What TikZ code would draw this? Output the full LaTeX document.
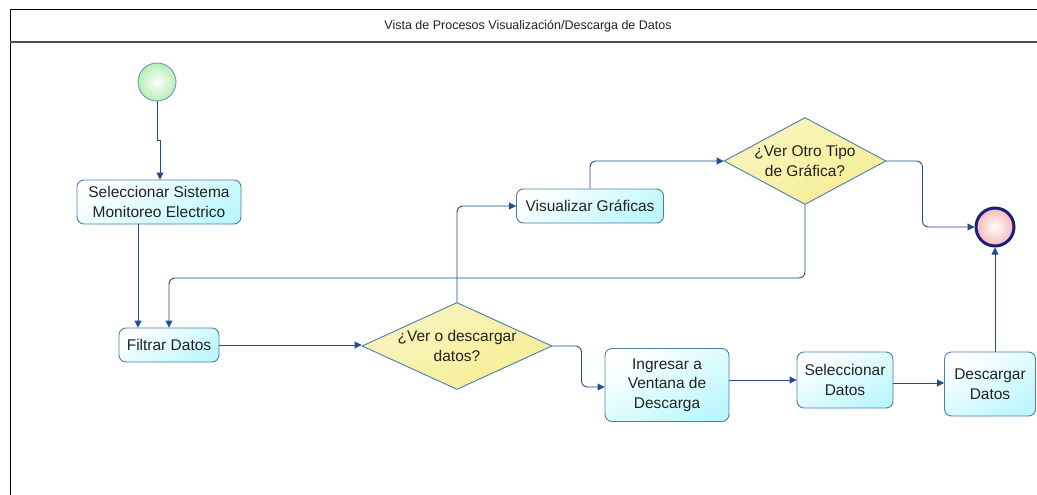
\documentclass[tikz,border=0pt]{standalone}
\usepackage{fontspec}
\setmainfont{Liberation Sans}
\usetikzlibrary{shapes.geometric,arrows.meta}
\definecolor{conn}{HTML}{1F4E8C}
\definecolor{boxborder}{HTML}{4A7DB0}
\definecolor{boxfill}{HTML}{BDF7FD}
\definecolor{diafill}{HTML}{F5EE95}
\definecolor{txt}{HTML}{222222}
\definecolor{startfill}{HTML}{B5EFB5}
\definecolor{endfill}{HTML}{F4B8B8}
\definecolor{endborder}{HTML}{1A1F7A}
\tikzset{
  x=1pt, y=-1pt,
  every node/.style={font=\fontsize{15.5}{19.5}\selectfont, text=txt},
  taskbox/.style={rectangle, rounded corners=7pt, draw=boxborder, line width=0.9pt,
    top color=white, bottom color=boxfill, shading angle=30, align=center, inner sep=2pt},
  decision/.style={diamond, draw=boxborder, line width=0.9pt, top color=white!40!diafill,
    bottom color=diafill, shading angle=30, align=center, inner sep=-3pt},
  flow/.style={draw=conn, line width=0.9pt, rounded corners=6pt,
    -{Triangle[length=7pt,width=7pt]}},
}
\begin{document}
\begin{tikzpicture}
\useasboundingbox (0,0) rectangle (1037,495);
\fill[white] (0,0) rectangle (1037,495);
% frame
\draw[black, line width=1pt] (10,495) -- (10,10) -- (1037,10);
\draw[black!70, line width=1.6pt] (10,42) -- (1037,42);
\node[font=\fontsize{12.5}{14}\selectfont] (title) at (528,26) {Vista de Procesos Visualización/Descarga de Datos};

% nodes
\node[circle, draw=boxborder!80, line width=0.9pt, inner color=white, outer color=startfill, minimum size=38pt, inner sep=0pt] (start) at (157,82) {};
\node[taskbox, minimum width=164pt, minimum height=44pt] (sel) at (159,202) {Seleccionar Sistema\\Monitoreo Electrico};
\node[taskbox, minimum width=100pt, minimum height=34pt] (fil) at (169,345) {Filtrar Datos};
\node[decision, aspect=2.18, minimum width=190pt, minimum height=87pt] (dec1) at (457,346) {¿Ver o descargar\\datos?};
\node[taskbox, minimum width=147pt, minimum height=34pt] (vis) at (590,206) {Visualizar Gráficas};
\node[decision, aspect=1.86, minimum width=162pt, minimum height=87pt] (dec2) at (805,161) {¿Ver Otro Tipo\\de Gráfica?};
\node[taskbox, minimum width=124pt, minimum height=73pt] (ing) at (667,385) {Ingresar a\\Ventana de\\Descarga};
\node[taskbox, minimum width=96pt, minimum height=56pt] (seld) at (845,380) {Seleccionar\\Datos};
\node[taskbox, minimum width=91pt, minimum height=64pt] (desc) at (990,384) {Descargar\\Datos};
\node[circle, draw=endborder, line width=3pt, inner color=white, outer color=endfill, minimum size=38pt, inner sep=0pt] (end) at (995,227) {};
\coordinate (loopy) at (0,278);

% connectors
\draw[flow, rounded corners=0pt] (start.south) -- ++(0,39) -| ([xshift=1pt]sel.north);
\draw[flow] ([xshift=-21pt]sel.south) -- ([xshift=-21pt]sel.south |- fil.north);
\draw[flow] (fil.east) -- (fil.east -| dec1.west);
\draw[flow] (dec1.north) |- (vis.west);
\draw[flow] (vis.north) |- (dec2.west);
\draw[flow] (dec2.south) -- (dec2.south |- loopy) -| (fil.north);
\draw[flow] (dec2.east) -- ++(36,0) |- (end.west);
\draw[flow] (dec1.east) -- ++(29,0) |- ([yshift=-2pt]ing.west);
\draw[flow] (ing.east |- seld.west) -- (seld.west);
\draw[flow] ([yshift=-3pt]seld.east) -- ([yshift=-3pt]seld.east -| desc.west);
\draw[flow] (end.south |- desc.north) -- (end.south);
\end{tikzpicture}
\end{document}
